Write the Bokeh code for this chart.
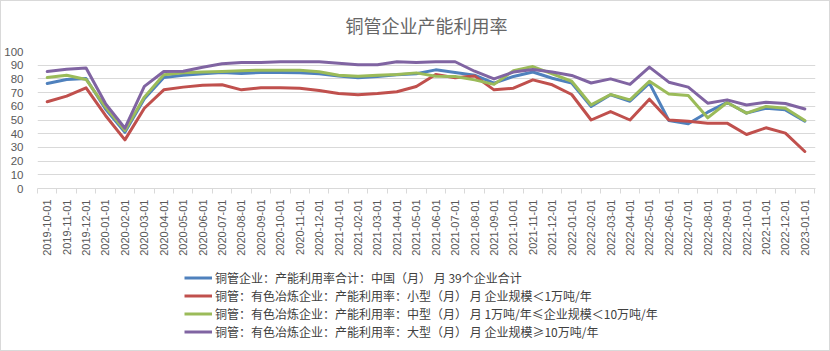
from bokeh.plotting import figure
from bokeh.models import Range1d, FixedTicker, Legend, LegendItem, Label
from bokeh.layouts import column
from bokeh.embed import file_html
from bokeh.resources import INLINE

dates = ["2019-10-01", "2019-11-01", "2019-12-01", "2020-01-01", "2020-02-01", "2020-03-01",
         "2020-04-01", "2020-05-01", "2020-06-01", "2020-07-01", "2020-08-01", "2020-09-01",
         "2020-10-01", "2020-11-01", "2020-12-01", "2021-01-01", "2021-02-01", "2021-03-01",
         "2021-04-01", "2021-05-01", "2021-06-01", "2021-07-01", "2021-08-01", "2021-09-01",
         "2021-10-01", "2021-11-01", "2021-12-01", "2022-01-01", "2022-02-01", "2022-03-01",
         "2022-04-01", "2022-05-01", "2022-06-01", "2022-07-01", "2022-08-01", "2022-09-01",
         "2022-10-01", "2022-11-01", "2022-12-01", "2023-01-01"]

total = [76.6, 79.6, 80.3, 58.0, 41.0, 65.5, 81.0, 82.7, 83.7, 84.7, 84.0, 84.7,
         84.7, 84.4, 83.7, 82.2, 80.8, 81.8, 83.0, 83.7, 86.6, 84.7, 82.7, 76.9,
         81.8, 85.0, 80.5, 76.9, 59.9, 68.4, 63.7, 76.9, 49.6, 47.2, 55.7, 62.8,
         55.0, 58.6, 57.4, 49.1]
small = [63.3, 67.4, 73.5, 53.3, 35.5, 58.6, 72.0, 74.0, 75.4, 75.7, 72.0, 73.5,
         73.5, 73.2, 71.5, 69.3, 68.4, 69.3, 70.6, 74.5, 83.2, 80.8, 82.2, 72.0,
         73.2, 79.3, 75.7, 68.6, 50.0, 56.2, 50.0, 65.2, 50.0, 49.0, 47.7, 47.7,
         39.4, 44.3, 40.4, 27.0]
medium = [81.0, 82.7, 79.6, 59.4, 42.3, 66.7, 83.0, 84.4, 85.0, 85.4, 86.0, 86.4,
          86.4, 86.4, 85.2, 82.7, 82.0, 82.7, 83.2, 84.4, 82.0, 81.8, 79.3, 76.0,
          86.0, 89.0, 83.7, 78.3, 61.0, 68.6, 64.7, 78.3, 69.0, 67.9, 51.6, 62.8,
          55.0, 59.9, 58.6, 49.6]
large = [85.4, 87.0, 88.0, 62.0, 44.0, 74.5, 85.4, 85.6, 88.5, 91.0, 92.0, 92.0,
         92.5, 92.5, 92.5, 91.5, 90.3, 90.3, 92.5, 92.0, 92.5, 92.5, 85.6, 80.0,
         85.0, 86.9, 85.0, 82.5, 77.0, 80.0, 76.0, 88.6, 77.6, 74.0, 62.3, 64.7,
         61.0, 63.0, 62.0, 58.0]

names = ["铜管企业：产能利用率合计：中国（月） 月 39个企业合计",
         "铜管：有色冶炼企业：产能利用率：小型（月） 月 企业规模＜1万吨/年",
         "铜管：有色冶炼企业：产能利用率：中型（月） 月 1万吨/年≤企业规模＜10万吨/年",
         "铜管：有色冶炼企业：产能利用率：大型（月） 月 企业规模≥10万吨/年"]
colors = ["#4F81BD", "#C0504D", "#9BBB59", "#8064A2"]
yticks = list(range(0, 101, 10))
title_text = "铜管企业产能利用率"

CJK = "Noto Sans CJK SC"
GRID = "#d9d9d9"
TXT = "#595959"
W = 828


def bare(h):
    f = figure(width=W, height=h, output_backend="svg", toolbar_location=None,
               x_range=Range1d(0, 1), y_range=Range1d(0, 1),
               x_axis_location=None, y_axis_location=None,
               min_border_left=0, min_border_right=0, min_border_top=0, min_border_bottom=0)
    f.outline_line_color = None
    f.grid.visible = False
    return f


# --- title strip ---
ft = bare(42)
ft.add_layout(Label(x=0.5, y=0.45, text=title_text, text_align="center", text_baseline="middle",
                    text_font=CJK, text_font_size="18px", text_color="#666666"))

# --- main chart ---
p = figure(width=W, height=215, output_backend="svg", toolbar_location=None,
           x_range=Range1d(-0.5, 39.55), y_range=Range1d(0, 100),
           min_border_left=36, min_border_right=14, min_border_top=8, min_border_bottom=70)
p.outline_line_color = None

xs = list(range(len(dates)))
series = [total, small, medium, large]
for col, ys in zip(colors, series):
    p.line(xs, ys, line_color=col, line_width=3, line_join="round", line_cap="round")

p.xaxis.ticker = FixedTicker(ticks=xs, minor_ticks=[i - 0.5 for i in range(len(dates) + 1)])
p.xaxis.major_label_overrides = {i: d for i, d in enumerate(dates)}
p.xaxis.major_label_orientation = 1.5707963267948966
p.xaxis.major_tick_out = 0
p.xaxis.major_tick_in = 0
p.xaxis.minor_tick_out = 5
p.xaxis.minor_tick_in = 0
p.xaxis.minor_tick_line_color = GRID
p.xaxis.axis_line_color = GRID
p.xaxis.major_label_standoff = 6
p.xaxis.major_label_text_font = "Liberation Sans"
p.xaxis.major_label_text_font_size = "11px"
p.xaxis.major_label_text_color = TXT
p.xgrid.visible = False

p.yaxis.ticker = FixedTicker(ticks=yticks)
p.yaxis.axis_line_color = None
p.yaxis.major_tick_line_color = None
p.yaxis.minor_tick_line_color = None
p.yaxis.major_label_standoff = 8
p.yaxis.major_label_text_font = "Liberation Sans"
p.yaxis.major_label_text_font_size = "11.5px"
p.yaxis.major_label_text_color = TXT
p.ygrid.grid_line_color = GRID
p.ygrid.grid_line_width = 1

# --- legend strip (series plotted outside the strip's visible range; only legend swatches show) ---
fl = bare(92)
items = []
for name, col, ys in zip(names, colors, series):
    r = fl.line(xs, ys, line_color=col, line_width=3)
    items.append(LegendItem(label=name, renderers=[r]))
legend = Legend(items=items, location=(147, 10), orientation="vertical",
                glyph_width=28, glyph_height=17, label_height=17, spacing=1,
                padding=0, margin=0, label_standoff=3,
                label_text_font=CJK, label_text_font_size="12px", label_text_color="#404040",
                border_line_alpha=0, background_fill_alpha=0)
fl.add_layout(legend, "center")

layout = column(ft, p, fl, spacing=0, styles={"border": "1px solid #d9d9d9"})
open("out.html", "w").write(file_html(layout, INLINE))
